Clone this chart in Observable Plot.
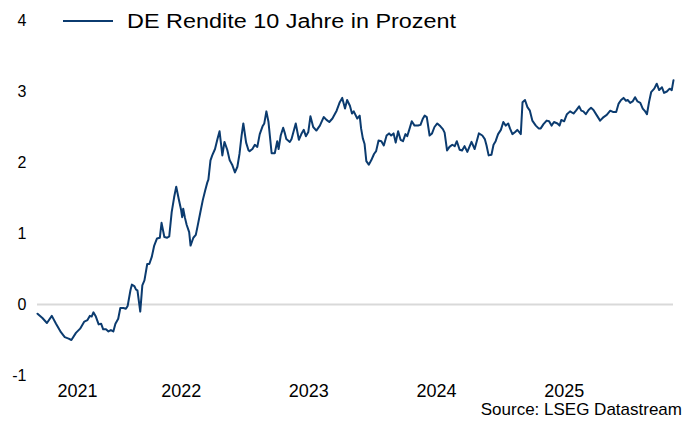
<!DOCTYPE html>
<html>
<head>
<meta charset="utf-8">
<script src="https://cdn.jsdelivr.net/npm/d3@7"></script>
<script src="https://cdn.jsdelivr.net/npm/@observablehq/plot@0.6"></script>
<style>
  html, body { margin: 0; padding: 0; background: #fff; }
  #wrap { position: relative; width: 686px; height: 428px; font-family: "Liberation Sans", Arial, sans-serif; color: #000; overflow: hidden; }
  #chart { position: absolute; left: 0; top: 0; }
  .legend { position: absolute; left: 63px; top: 10px; height: 22px; display: flex; align-items: center; white-space: nowrap; }
  .legend .swatch { display: inline-block; width: 50px; height: 2px; background: #0b3b6f; }
  .legend .label { display: inline-block; margin-left: 14px; font-size: 20px; line-height: 22px; transform: scaleX(1.17); transform-origin: left center; }
  .source { position: absolute; right: 4px; top: 400px; font-size: 17px; line-height: 20px; white-space: nowrap; }
</style>
</head>
<body>
<div id="wrap">
  <div id="chart"></div>
  <div class="legend"><span class="swatch"></span><span class="label" id="legendLabel"></span></div>
  <div class="source" id="source"></div>
</div>
<script>
// ---- data ----
const seriesName = "DE Rendite 10 Jahre in Prozent";
const sourceText = "Source: LSEG Datastream";
const startDate = "2021-05-17";            // first observation
const yearLabels = ["2021", "2022", "2023", "2024", "2025"];
const yTicks = [-1, 0, 1, 2, 3, 4];

// days after startDate
const dayOffsets = [
  0, 14, 27, 41, 53, 67, 78, 89, 97, 110, 122, 134, 143, 150, 155, 160, 167, 175, 182, 188,
  196, 203, 210, 217, 223, 231, 237, 246, 253, 258, 266, 270, 277, 282, 286, 294, 300, 306,
  314, 320, 327, 334, 342, 350, 355, 363, 371, 377, 384, 391, 397, 404, 411, 414, 417, 422,
  427, 434, 438, 446, 453, 458, 466, 473, 480, 486, 489, 495, 500, 508, 515, 521, 529, 535,
  543, 550, 557, 565, 572, 578, 584, 589, 597, 604, 607, 615, 622, 629, 636, 644, 649, 655,
  661, 670, 679, 686, 690, 696, 703, 708, 712, 722, 727, 739, 748, 755, 762, 768, 775, 781,
  789, 798, 808, 819, 827, 835, 844, 856, 865, 872, 880, 886, 894, 900, 905, 915, 922, 926,
  931, 936, 941, 948, 955, 963, 969, 976, 984, 991, 999, 1006, 1012, 1019, 1025, 1032, 1039,
  1046, 1053, 1058, 1065, 1071, 1079, 1089, 1096, 1103, 1108, 1114, 1122, 1129, 1136, 1144,
  1153, 1160, 1165, 1172, 1179, 1187, 1194, 1200, 1208, 1215, 1222, 1230, 1242, 1251, 1263,
  1273, 1280, 1285, 1291, 1299, 1305, 1311, 1318, 1326, 1333, 1340, 1347, 1352, 1359, 1367,
  1373, 1378, 1383, 1388, 1395, 1402, 1409, 1416, 1426, 1434, 1440, 1448, 1457, 1464, 1471,
  1478, 1488, 1494, 1499, 1507, 1515, 1524, 1534, 1541, 1550, 1556, 1562, 1569, 1577, 1584,
  1591, 1601, 1610, 1620, 1629, 1639, 1648, 1656, 1663, 1670, 1677, 1684, 1689, 1696, 1703,
  1710, 1717, 1725, 1732, 1739, 1744, 1750, 1756, 1765, 1772, 1779, 1787, 1793, 1801, 1809,
  1815, 1820
];

// 10-year yield, percent
const yields = [
  -0.13, -0.19, -0.26, -0.16, -0.27, -0.39, -0.46, -0.48, -0.50, -0.40, -0.34, -0.24, -0.22, -0.16, -0.17, -0.11, -0.17, -0.28, -0.27, -0.35,
  -0.35, -0.38, -0.36, -0.38, -0.27, -0.20, -0.05, -0.05, -0.06, -0.02, 0.20, 0.28, 0.26, 0.21, 0.20, -0.10, 0.27, 0.34,
  0.57, 0.57, 0.67, 0.83, 0.93, 0.94, 1.15, 0.95, 0.94, 0.96, 1.30, 1.51, 1.66, 1.49, 1.33, 1.23, 1.35, 1.22,
  1.12, 1.02, 0.83, 0.94, 0.98, 1.10, 1.30, 1.47, 1.61, 1.72, 1.76, 2.03, 2.10, 2.19, 2.33, 2.44, 2.10, 2.29,
  2.18, 2.03, 1.97, 1.86, 1.94, 2.12, 2.38, 2.55, 2.28, 2.17, 2.16, 2.19, 2.25, 2.22, 2.40, 2.51, 2.55, 2.72,
  2.57, 2.13, 2.13, 2.30, 2.19, 2.38, 2.49, 2.41, 2.33, 2.29, 2.33, 2.55, 2.32, 2.40, 2.46, 2.37, 2.43, 2.65,
  2.50, 2.45, 2.52, 2.64, 2.60, 2.57, 2.62, 2.73, 2.85, 2.91, 2.76, 2.88, 2.80, 2.69, 2.72, 2.62, 2.66, 2.48,
  2.34, 2.26, 2.02, 1.97, 2.03, 2.12, 2.16, 2.31, 2.30, 2.24, 2.38, 2.41, 2.38, 2.41, 2.28, 2.44, 2.32,
  2.30, 2.40, 2.37, 2.48, 2.58, 2.52, 2.52, 2.53, 2.62, 2.66, 2.64, 2.38, 2.41, 2.50, 2.55,
  2.51, 2.47, 2.42, 2.17, 2.22, 2.25, 2.23, 2.30, 2.18, 2.17, 2.23, 2.15, 2.29, 2.19, 2.41,
  2.38, 2.33, 2.24, 2.10, 2.11, 2.25, 2.30, 2.40, 2.46, 2.57, 2.52, 2.55, 2.48, 2.40, 2.43,
  2.46, 2.43, 2.40, 2.85, 2.88, 2.78, 2.73, 2.59, 2.52, 2.48, 2.48, 2.54, 2.59, 2.58, 2.52,
  2.57, 2.55, 2.52, 2.60, 2.58, 2.68, 2.72, 2.69, 2.73, 2.79, 2.73, 2.72, 2.68, 2.74, 2.77,
  2.74, 2.66, 2.59, 2.64, 2.67, 2.73, 2.71, 2.71, 2.83, 2.88, 2.91, 2.87, 2.88, 2.84, 2.86,
  2.92, 2.86, 2.84, 2.76, 2.72, 2.68, 2.85, 2.99, 3.04, 3.11, 3.02, 3.06, 2.98, 3.00, 3.04,
  3.02, 3.16
];

// ---- build table ----
const DAY = 864e5;
const t0 = Date.parse(startDate + "T00:00:00Z");
const data = dayOffsets.map((d, i) => ({ date: new Date(t0 + d * DAY), value: yields[i] }));
const xStart = data[0].date;
const xEnd = data[data.length - 1].date;

// year labels are centred on the visible part of each year
const labelByTime = new Map();
const tickDates = yearLabels.map(y => {
  const a = Math.max(+xStart, Date.UTC(+y, 0, 1));
  const b = Math.min(+xEnd, Date.UTC(+y + 1, 0, 1));
  const t = new Date((a + b) / 2);
  labelByTime.set(+t, y);
  return t;
});

const chart = Plot.plot({
  width: 686,
  height: 400,
  marginLeft: 37,
  marginRight: 13,
  marginTop: 20,
  marginBottom: 25,
  style: { fontFamily: "'Liberation Sans', Arial, sans-serif", color: "#000", background: "transparent" },
  x: { type: "utc", domain: [xStart, xEnd] },
  y: { domain: [-1, 4] },
  marks: [
    Plot.ruleY([0], { stroke: "#d9d9d9", strokeWidth: 2 }),
    Plot.line(data, { x: "date", y: "value", stroke: "#0b3b6f", strokeWidth: 2, strokeLinejoin: "round" }),
    Plot.axisY({ ticks: yTicks, tickSize: 0, tickPadding: 11, fontSize: 16, label: null, tickFormat: d => String(d) }),
    Plot.axisX({ ticks: tickDates, tickSize: 0, tickPadding: 9, fontSize: 18, label: null, tickFormat: d => labelByTime.get(+d) })
  ]
});
document.getElementById("chart").appendChild(chart);
document.getElementById("legendLabel").textContent = seriesName;
document.getElementById("source").textContent = sourceText;
</script>
</body>
</html>
